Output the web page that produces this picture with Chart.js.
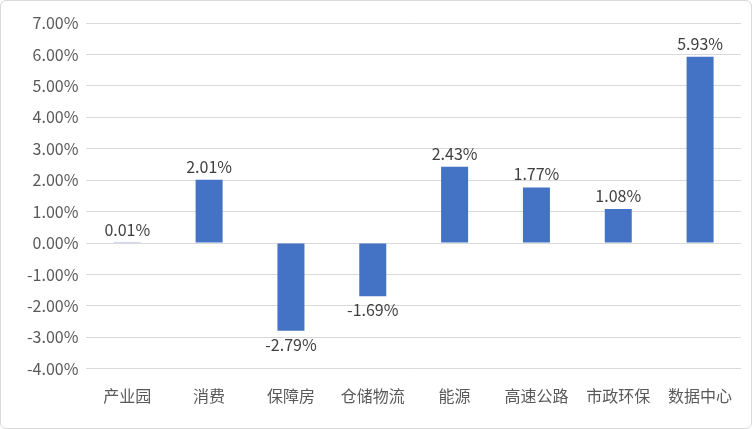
<!DOCTYPE html>
<html>
<head>
<meta charset="utf-8">
<script src="https://cdn.jsdelivr.net/npm/chart.js@4"></script>
<style>
  html, body { margin: 0; padding: 0; background: #fff; }
  #wrap { width: 750px; height: 427px; border: 1px solid #d9d9d9; border-radius: 6px; overflow: hidden; }
</style>
</head>
<body>
<div id="wrap"><canvas id="myChart" width="750" height="427"></canvas></div>
<script>
var categories = ["产业园", "消费", "保障房", "仓储物流", "能源", "高速公路", "市政环保", "数据中心"];
var values = [0.01, 2.01, -2.79, -1.69, 2.43, 1.77, 1.08, 5.93];

var valueLabels = {
    id: 'valueLabels',
    afterDatasetsDraw(chart) {
        var ctx = chart.ctx;
        var meta = chart.getDatasetMeta(0);
        ctx.save();
        ctx.font = '16px "Microsoft YaHei", "Noto Sans CJK SC", sans-serif';
        ctx.fillStyle = '#404040';
        ctx.textAlign = 'center';
        meta.data.forEach(function(bar, i) {
            var v = values[i];
            if (v >= 0) {
                ctx.textBaseline = 'bottom';
                ctx.fillText(v.toFixed(2) + '%', bar.x, bar.y - 5);
            } else {
                ctx.textBaseline = 'top';
                ctx.fillText(v.toFixed(2) + '%', bar.x, bar.y + 6);
            }
        });
        ctx.restore();
    }
};

var ctx = document.getElementById("myChart").getContext('2d');
var myChart = new Chart(ctx, {
    type: 'bar',
    data: {
        labels: categories,
        datasets: [{
            data: values,
            backgroundColor: '#4472C4',
            barPercentage: 0.66,
            categoryPercentage: 0.5
        }]
    },
    options: {
        responsive: false,
        animation: false,
        layout: { padding: { top: 22, right: 10, left: 18, bottom: 12 } },
        plugins: { legend: { display: false }, tooltip: { enabled: false } },
        scales: {
            y: {
                min: -4, max: 7,
                ticks: {
                    stepSize: 1,
                    color: '#595959',
                    padding: 8,
                    font: { size: 16, family: '"Noto Sans CJK SC", sans-serif' },
                    callback: function(v) { return v.toFixed(2) + '%'; }
                },
                grid: { color: '#d9d9d9', drawTicks: false },
                border: { display: false }
            },
            x: {
                ticks: {
                    color: '#595959',
                    font: { size: 16, family: '"Noto Sans CJK SC", sans-serif' },
                    padding: 10
                },
                grid: { display: false },
                border: { display: false }
            }
        }
    },
    plugins: [valueLabels]
});
</script>
</body>
</html>
